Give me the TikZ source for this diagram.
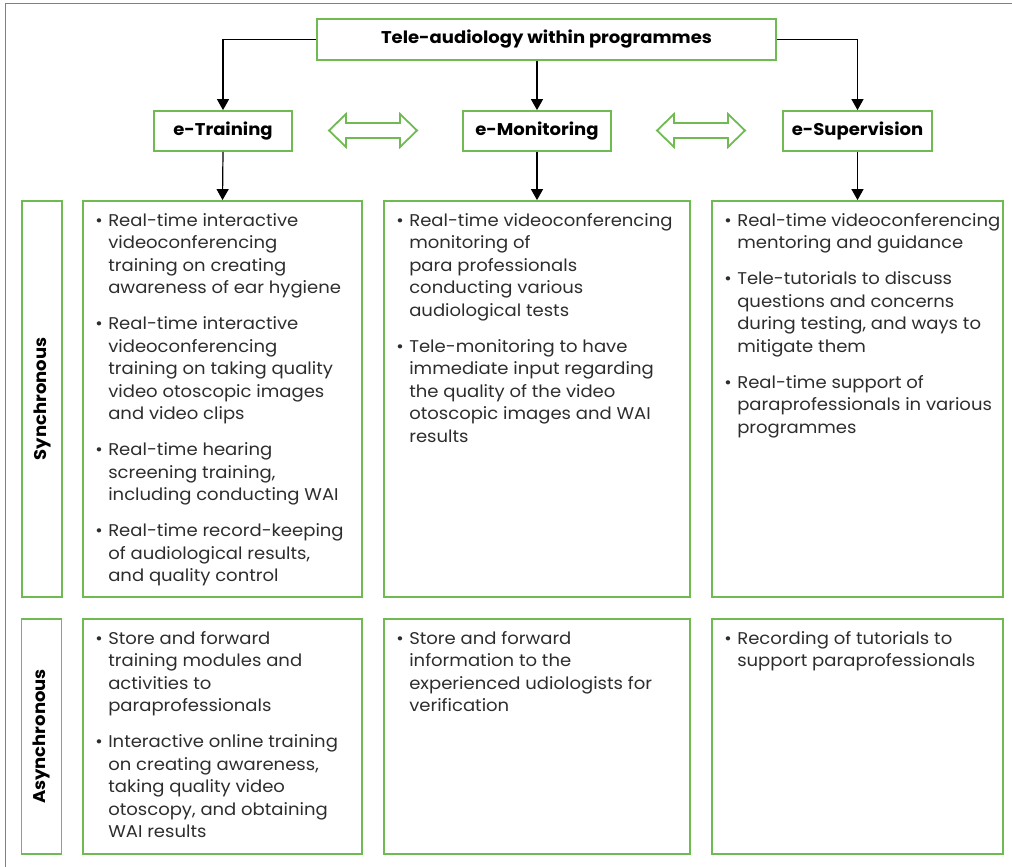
\documentclass[tikz,border=0pt]{standalone}
\usepackage{fontspec}
\setmainfont{Poppins}[FakeStretch=1.06]
\usetikzlibrary{arrows.meta}

\definecolor{boxgreen}{RGB}{112,186,82}
\definecolor{txtgray}{RGB}{45,45,45}

\tikzset{
  gbox/.style={draw=boxgreen, line width=1.8pt, inner sep=0pt},
  head/.style={gbox, text=black, font=\bfseries\fontsize{17}{20}\selectfont, minimum height=40pt},
  side/.style={gbox, rotate=90, minimum height=40pt, text=black, font=\bfseries\fontsize{17}{20}\selectfont},
  listtxt/.style={anchor=north west, inner sep=0pt, text=txtgray, font=\fontsize{17}{22.5}\selectfont},
  arr/.style={line width=1.2pt, -{Triangle[width=12pt,length=11pt]}},
  dbl/.style={draw=boxgreen, line width=1.8pt, fill=white}
}
\newcommand{\bitem}{\par\hangindent=13pt\hangafter=1\noindent\makebox[13pt][l]{\textbullet}}
\newcommand{\blist}[2]{\parbox[t]{#1}{\setlength{\parskip}{13.5pt}\setlength{\parindent}{0pt}#2\par}}

\begin{document}
\begin{tikzpicture}[x=1pt, y=-1pt]

\useasboundingbox (0,0) rectangle (1012,867);
\draw[gray, line width=1pt] (1012,4) -- (5,4) -- (5,867);

\node[head, minimum width=459pt, minimum height=41pt] (top) at (546.5,39.5) {Tele-audiology within programmes};
\node[head, minimum width=138pt] (train) at (223,131) {e-Training};
\node[head, minimum width=148pt] (monit) at (537,131) {e-Monitoring};
\node[head, minimum width=149pt] (superv) at (857.5,131) {e-Supervision};

\draw[dbl] (329,130.5) -- ++(17,-16.5) -- ++(0,9) -- ++(54,0) -- ++(0,-9) -- ++(17,16.5) -- ++(-17,16.5) -- ++(0,-9) -- ++(-54,0) -- ++(0,9) -- cycle;
\draw[dbl] (657,130.5) -- ++(17,-16.5) -- ++(0,9) -- ++(54,0) -- ++(0,-9) -- ++(17,16.5) -- ++(-17,16.5) -- ++(0,-9) -- ++(-54,0) -- ++(0,9) -- cycle;

\node[side, minimum width=396pt] (sync) at (42,399) {Synchronous};
\node[side, minimum width=235pt] (async) at (41.5,736.5) {Asynchronous};

\node[gbox, minimum width=279pt, minimum height=396pt] (s1) at (222.5,399) {};
\node[gbox, minimum width=306pt, minimum height=396pt] (s2) at (537,399) {};
\node[gbox, minimum width=291pt, minimum height=396pt] (s3) at (857.5,399) {};
\node[gbox, minimum width=279pt, minimum height=235pt] (a1) at (222.5,736.5) {};
\node[gbox, minimum width=306pt, minimum height=235pt] (a2) at (537,736.5) {};
\node[gbox, minimum width=291pt, minimum height=235pt] (a3) at (857.5,736.5) {};

\draw[arr] (top.west) -| (train.north);
\draw[arr] (monit.north |- top.south) -- (monit.north);
\draw[arr] (top.east) -| (superv.north);
\draw[arr] (train.south) -- (s1.north);
\draw[arr] (monit.south) -- (s2.north);
\draw[arr] (superv.south) -- (s3.north);

\node[listtxt] (s1t) at ([xshift=13pt, yshift=-13pt]s1.north west) {\blist{262pt}{%
\bitem Real-time interactive\newline videoconferencing\newline training on creating\newline awareness of ear hygiene
\bitem Real-time interactive\newline videoconferencing\newline training on taking quality\newline video otoscopic images\newline and video clips
\bitem Real-time hearing\newline screening training,\newline including conducting WAI
\bitem Real-time record-keeping\newline of audiological results,\newline and quality control}};

\node[listtxt] (s2t) at ([xshift=13pt, yshift=-13pt]s2.north west) {\blist{290pt}{%
\bitem Real-time videoconferencing\newline monitoring of\newline para professionals\newline conducting various\newline audiological tests
\bitem Tele-monitoring to have\newline immediate input regarding\newline the quality of the video\newline otoscopic images and WAI\newline results}};

\node[listtxt] (s3t) at ([xshift=13pt, yshift=-13pt]s3.north west) {\blist{276pt}{%
\bitem Real-time videoconferencing\newline mentoring and guidance
\bitem Tele-tutorials to discuss\newline questions and concerns\newline during testing, and ways to\newline mitigate them
\bitem Real-time support of\newline paraprofessionals in various\newline programmes}};

\node[listtxt] (a1t) at ([xshift=13pt, yshift=-13pt]a1.north west) {\blist{262pt}{%
\bitem Store and forward\newline training modules and\newline activities to\newline paraprofessionals
\bitem Interactive online training\newline on creating awareness,\newline taking quality video\newline otoscopy, and obtaining\newline WAI results}};

\node[listtxt] (a2t) at ([xshift=13pt, yshift=-13pt]a2.north west) {\blist{290pt}{%
\bitem Store and forward\newline information to the\newline experienced udiologists for\newline verification}};

\node[listtxt] (a3t) at ([xshift=13pt, yshift=-13pt]a3.north west) {\blist{276pt}{%
\bitem Recording of tutorials to\newline support paraprofessionals}};

\end{tikzpicture}
\end{document}
